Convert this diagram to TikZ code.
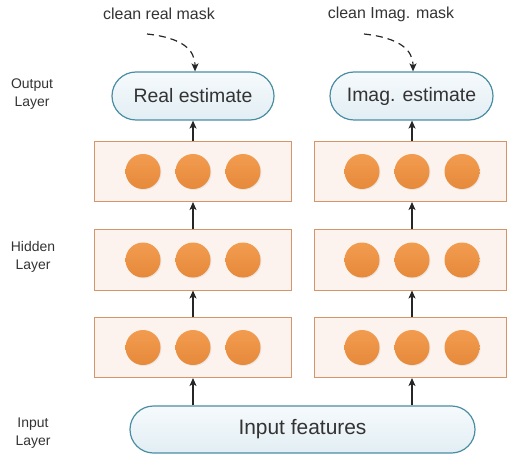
\documentclass[tikz,border=0pt]{standalone}
\usepackage{fontspec}
\setmainfont{Liberation Sans}
\usepackage{tikz}
\usetikzlibrary{arrows.meta,shapes.misc,shadows}

\definecolor{boxline}{HTML}{D4956A}
\definecolor{boxfill}{HTML}{FDF3EE}
\definecolor{neurontop}{HTML}{F29C50}
\definecolor{neuronbot}{HTML}{E6893A}
\definecolor{estline}{HTML}{4A8DA3}
\definecolor{esttop}{HTML}{F6FAFC}
\definecolor{estbot}{HTML}{E2EEF4}
\definecolor{textgray}{HTML}{333333}

\tikzset{
    layerbox/.style={draw=boxline, fill=boxfill, line width=1bp, minimum height=60bp, inner sep=0pt},
    neuron/.style={circle, minimum size=35bp, inner sep=0pt, top color=neurontop, bottom color=neuronbot,
        drop shadow={opacity=0.12, shadow xshift=1bp, shadow yshift=-1bp}},
    estimate/.style={rounded rectangle, draw=estline, line width=1.2bp, top color=esttop, bottom color=estbot,
        text=textgray, inner sep=0pt},
    layername/.style={align=center, text=textgray, font=\fontsize{14}{18}\selectfont},
    masklabel/.style={text=textgray, font=\fontsize{16}{19}\selectfont},
    arr/.style={-{Stealth[length=8bp,width=7bp,inset=2bp]}, line width=1.2bp, black!85},
    maskarr/.style={-{Stealth[length=8bp,width=7bp,inset=2bp]}, line width=1.2bp, black!85, dash pattern=on 7bp off 5bp}
}

\begin{document}
\begin{tikzpicture}[x=1bp,y=-1bp]
    \useasboundingbox (0,0) rectangle (507,454);

    % layer names
    \node[layername] (outname) at (32,94) {Output\\Layer};
    \node[layername] (hidname) at (33,257) {Hidden\\Layer};
    \node[layername] (inname) at (33,433) {Input\\Layer};

    % hidden layers
    \foreach \row/\y in {1/171.5,2/260,3/347.5} {
        \node[layerbox, minimum width=197bp] (l\row) at (192.5,\y) {};
        \node[layerbox, minimum width=192bp] (r\row) at (410,\y) {};
        \foreach \col/\x in {1/143,2/193,3/243}
            \node[neuron] (l\row-\col) at (\x,\y) {};
        \foreach \col/\x in {1/362,2/412,3/462}
            \node[neuron] (r\row-\col) at (\x,\y) {};
    }

    % input and outputs
    \node[estimate, minimum width=345bp, minimum height=47bp, font=\fontsize{21}{25}\selectfont] (inp) at (302.5,429.5) {Input features};
    \node[estimate, minimum width=162bp, minimum height=48bp, font=\fontsize{19.5}{23}\selectfont] (real) at (193,96) {Real estimate};
    \node[estimate, minimum width=163bp, minimum height=48bp, font=\fontsize{19.5}{23}\selectfont] (imag) at (411.5,96) {Imag. estimate};

    \draw[arr] (inp.north -| l3-2) -- (l3.south -| l3-2);
    \draw[arr] (l3.north -| l3-2) -- (l2.south -| l3-2);
    \draw[arr] (l2.north -| l3-2) -- (l1.south -| l3-2);
    \draw[arr] (l1.north -| l3-2) -- (real.south -| l3-2);

    \draw[arr] (inp.north -| r3-2) -- (r3.south -| r3-2);
    \draw[arr] (r3.north -| r3-2) -- (r2.south -| r3-2);
    \draw[arr] (r2.north -| r3-2) -- (r1.south -| r3-2);
    \draw[arr] (r1.north -| r3-2) -- (imag.south -| r3-2);

    % training targets
    \node[masklabel] (realmask) at (159,14) {clean real mask};
    \node[masklabel] (imagmask) at (391,14) {clean Imag. mask};
    \coordinate (realfrom) at (147,34);
    \coordinate (imagfrom) at (364,34);
    \draw[maskarr] (realfrom) .. controls (183,38) and (195,50) .. ([xshift=2bp]real.north);
    \draw[maskarr] (imagfrom) .. controls (400,38) and (413,50) .. ([xshift=1.5bp]imag.north);
\end{tikzpicture}
\end{document}
